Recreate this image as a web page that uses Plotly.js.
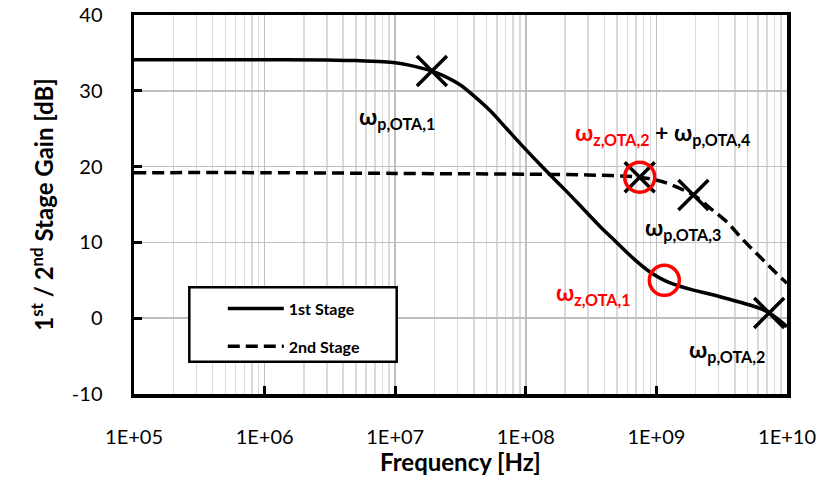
<!DOCTYPE html>
<html>
<head>
<meta charset="utf-8">
<script src="https://cdn.plot.ly/plotly-3.0.1.min.js"></script>
<style>html,body{margin:0;padding:0;background:#fff;}#chart{width:828px;height:496px;}</style>
</head>
<body>
<div id="chart"></div>
<script>
// ---- data ----
const freq1 = [1e5, 3e5, 1e6, 3e6, 5e6, 7.5e6, 1e7, 1.3e7, 1.91e7, 2.33e7, 3.13e7, 3.96e7, 5.32e7, 7.14e7, 9.57e7, 1.28e8, 1.62e8, 2.06e8, 2.76e8, 3.7e8, 4.96e8, 6.65e8, 8.93e8, 1.195e9, 1.43e9, 1.92e9, 2.6e9, 3.44e9, 4.6e9, 6.19e9, 7.39e9, 1e10];
const gain1 = [34.1, 34.1, 34.1, 34.05, 34.0, 33.85, 33.7, 33.35, 32.6, 32.0, 30.8, 29.4, 27.4, 25.0, 22.6, 20.3, 18.5, 16.7, 14.4, 12.1, 10.0, 7.9, 6.1, 4.85, 4.35, 3.7, 3.15, 2.6, 2.0, 1.3, 0.65, -1.1];
const freq2 = [1e5, 1e6, 1e7, 1e8, 3e8, 7.45e8, 1.12e9, 1.92e9, 2.57e9, 3.45e9, 4.63e9, 6.2e9, 8.32e9, 1e10];
const gain2 = [19.2, 19.2, 19.1, 19.0, 18.9, 18.6, 18.0, 16.25, 14.54, 12.73, 10.3, 8.1, 5.9, 4.6];
const poleFreq = [1.91e7, 7.45e8, 1.92e9, 7.3e9];
const poleGain = [32.6, 18.6, 16.25, 0.7];
const zeroFreq = [7.45e8, 1.15e9];
const zeroGain = [18.6, 5.0];
const seriesNames = ['1st Stage', '2nd Stage'];
const xTickVals = [1e5, 1e6, 1e7, 1e8, 1e9, 1e10];
const xTickText = ['1E+05', '1E+06', '1E+07', '1E+08', '1E+09', '1E+10'];
const yTickVals = [-10, 0, 10, 20, 30, 40];
const yTickText = ['-10', '0', '10', '20', '30', '40'];
const labelText = ['ω<sub>p,OTA,1</sub>', '<span style="color:#ff0000">ω<sub>z,OTA,2</sub></span> + ω<sub>p,OTA,4</sub>', 'ω<sub>p,OTA,3</sub>', 'ω<sub>z,OTA,1</sub>', 'ω<sub>p,OTA,2</sub>'];
const labelX = [7.014, 9.05, 9.204, 8.522, 9.54];
const labelY = [26.5, 24.4, 11.8, 3.3, -4.2];
const labelColor = ['#000000', '#000000', '#000000', '#ff0000', '#000000'];

const FONT = 'Lato, "Open Sans", sans-serif';
const NB = '\u00a0';

const traces = [
  {x: freq1, y: gain1, name: seriesNames[0], mode: 'lines', type: 'scatter',
   line: {color: '#000', width: 3.5, shape: 'spline', smoothing: 1}, legendgroup: 'a'},
  {x: freq2, y: gain2, name: seriesNames[1], mode: 'lines', type: 'scatter',
   line: {color: '#000', width: 3.5, dash: '12px,6px', shape: 'spline', smoothing: 0.8}, legendgroup: 'b'},
  {x: poleFreq, y: poleGain, mode: 'markers', type: 'scatter', showlegend: false, hoverinfo: 'skip',
   marker: {symbol: 'x-thin-open', size: 30, color: '#000', line: {color: '#000', width: 3.5}}},
  {x: zeroFreq, y: zeroGain, mode: 'markers', type: 'scatter', showlegend: false, hoverinfo: 'skip',
   marker: {symbol: 'circle-open', size: 30, color: '#ff0000', line: {color: '#ff0000', width: 3.5}}}
];

const annotations = labelText.map((t, i) => ({
  x: labelX[i], y: labelY[i], xref: 'x', yref: 'y', text: t, showarrow: false,
  font: {family: FONT, size: 23, color: labelColor[i], weight: 'bold'}
}));

const layout = {
  width: 828, height: 496,
  margin: {l: 134, r: 41, t: 15, b: 102},
  paper_bgcolor: '#fff', plot_bgcolor: '#fff',
  font: {family: FONT, color: '#000'},
  showlegend: true,
  legend: {x: 0.136, y: 0.27, xanchor: 'left', yanchor: 'top', bgcolor: 'rgba(0,0,0,0)',
           borderwidth: 0, font: {family: FONT, size: 16, color: '#000', weight: 'bold'},
           traceorder: 'grouped', tracegroupgap: 14, itemwidth: 56},
  xaxis: {type: 'log', range: [5, 10], tickvals: xTickVals, ticktext: xTickText,
          showgrid: true, gridcolor: '#bfbfbf', gridwidth: 1.5,
          minor: {dtick: 'D1', showgrid: true, gridcolor: '#dadada', gridwidth: 1.5, ticks: ''},
          ticks: 'inside', ticklen: 8, tickwidth: 3, tickcolor: '#000',
          showline: true, linecolor: '#000', linewidth: 3.5, mirror: true,
          tickfont: {family: FONT, size: 20, color: '#000'}, ticklabelstandoff: 22,
          title: {text: 'Frequency [Hz]', font: {family: FONT, size: 24, color: '#000', weight: 'bold'}, standoff: 8},
          zeroline: false},
  yaxis: {range: [-10, 40], tickvals: yTickVals, ticktext: yTickText,
          showgrid: true, gridcolor: '#bfbfbf', gridwidth: 1.5,
          ticks: 'inside', ticklen: 8, tickwidth: 3, tickcolor: '#000',
          showline: true, linecolor: '#000', linewidth: 3.5, mirror: true,
          tickfont: {family: FONT, size: 20, color: '#000'}, ticklabelstandoff: 24,
          title: {text: NB.repeat(6) + '1<sup>st</sup> / 2<sup>nd</sup> Stage Gain [dB]', font: {family: FONT, size: 24, color: '#000', weight: 'bold'}, standoff: 12},
          zeroline: false},
  shapes: [{type: 'rect', xref: 'paper', yref: 'paper', x0: 0.0847, x1: 0.4023, y0: 0.0852, y1: 0.2815,
            line: {color: '#000', width: 2.5}, fillcolor: '#fff', layer: 'above'}],
  annotations: annotations
};

Plotly.newPlot('chart', traces, layout, {staticPlot: true});
</script>
</body>
</html>
